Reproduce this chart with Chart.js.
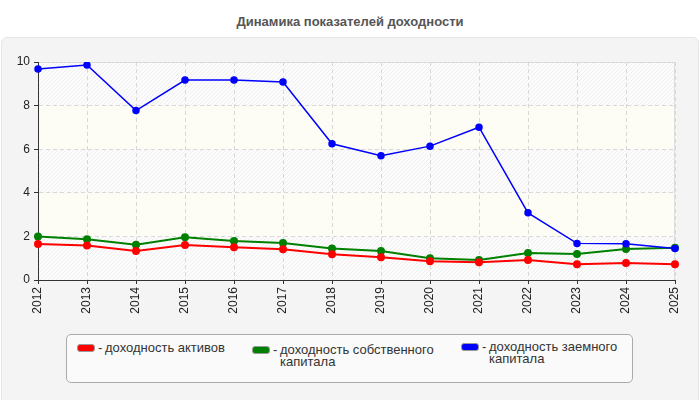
<!DOCTYPE html>
<html>
<head>
<meta charset="utf-8">
<script src="https://cdn.jsdelivr.net/npm/chart.js@4.4.1/dist/chart.umd.min.js"></script>
<style>
  body { margin: 0; background: #fff; font-family: "Liberation Sans", Arial, sans-serif; }
  #wrap { position: relative; width: 700px; height: 400px; overflow: hidden; }
  #title { position: absolute; left: 0; top: 14px; width: 700px; text-align: center;
           font-weight: bold; font-size: 13px; color: #555; }
  #panel { position: absolute; left: 1px; top: 37px; width: 696px; height: 370px;
           background: #f4f4f4; border: 1px solid #e6e6e6; border-radius: 6px; }
  #canvas-box { position: absolute; left: 0; top: 0; width: 700px; height: 330px; }
  #legend { position: absolute; left: 66px; top: 334px; width: 565px; height: 47px;
            background: #fafafa; border: 1px solid #aaa; border-radius: 5px; }
  .swatch { position: absolute; width: 16px; height: 6px;
            border: 1px solid #999; border-radius: 3px; }
  .dash, .label { position: absolute; font-size: 13px; color: #333; line-height: 12px; white-space: nowrap; }
</style>
</head>
<body>
<div id="wrap">
  <div id="title">Динамика показателей доходности</div>
  <div id="panel"></div>
  <div id="canvas-box"><canvas id="canvas" width="700" height="330"></canvas></div>
  <div id="legend"></div>
</div>
<script>
const years = ["2012", "2013", "2014", "2015", "2016", "2017", "2018", "2019", "2020", "2021", "2022", "2023", "2024", "2025"];
const assetsReturn = [1.65, 1.58, 1.33, 1.61, 1.50, 1.41, 1.18, 1.04, 0.86, 0.81, 0.92, 0.72, 0.78, 0.72];
const equityReturn = [2.00, 1.87, 1.62, 1.96, 1.79, 1.70, 1.45, 1.33, 1.00, 0.92, 1.24, 1.19, 1.42, 1.48];
const debtReturn = [9.68, 9.86, 7.77, 9.17, 9.17, 9.08, 6.25, 5.70, 6.14, 7.01, 3.08, 1.68, 1.66, 1.45];
const seriesNames = ["доходность активов", "доходность собственного\nкапитала", "доходность заемного\nкапитала"];
const seriesColors = ["#ff0000", "#008000", "#0000ff"];
const yTicks = [0, 2, 4, 6, 8, 10];

// legend drawn as html so the labels can wrap like in the picture
const legendBox = document.getElementById("legend");
const legendLeft = [10, 185, 394];
const legendTop = [9, 11, 8];
seriesNames.forEach(function (name, i) {
    const sw = document.createElement("div");
    sw.className = "swatch";
    sw.style.left = legendLeft[i] + "px";
    sw.style.top = legendTop[i] + "px";
    sw.style.background = seriesColors[i];
    legendBox.appendChild(sw);

    const dash = document.createElement("div");
    dash.className = "dash";
    dash.textContent = "-";
    dash.style.left = (legendLeft[i] + 21) + "px";
    dash.style.top = (legendTop[i] - 2) + "px";
    legendBox.appendChild(dash);

    const lab = document.createElement("div");
    lab.className = "label";
    lab.innerHTML = name.replace("\n", "<br>");
    lab.style.left = (legendLeft[i] + 28) + "px";
    lab.style.top = (legendTop[i] - 2) + "px";
    legendBox.appendChild(lab);
});

function makeHatch() {
    const c = document.createElement("canvas");
    c.width = 4; c.height = 4;
    const g = c.getContext("2d");
    g.fillStyle = "#fcfcfc";
    g.fillRect(0, 0, 4, 4);
    g.strokeStyle = "#efefef";
    g.lineWidth = 1;
    g.beginPath();
    g.moveTo(0, 4); g.lineTo(4, 0);
    g.moveTo(-1, 1); g.lineTo(1, -1);
    g.moveTo(3, 5); g.lineTo(5, 3);
    g.stroke();
    return g.createPattern(c, "repeat");
}

// striped bands behind the plot, every other band hatched, thin frame round it
const bandPlugin = {
    id: "bands",
    beforeDraw(chart) {
        const ctx = chart.ctx;
        const area = chart.chartArea;
        const y = chart.scales.y;
        const hatch = makeHatch();
        ctx.save();
        for (let i = 0; i < yTicks.length - 1; i++) {
            const top = y.getPixelForValue(yTicks[i + 1]);
            const bottom = y.getPixelForValue(yTicks[i]);
            ctx.fillStyle = i % 2 === 0 ? hatch : "#fdfdf6";
            ctx.fillRect(area.left, top, area.right - area.left, bottom - top);
        }
        ctx.strokeStyle = "#dddddd";
        ctx.lineWidth = 1;
        ctx.strokeRect(area.left + 0.5, area.top + 0.5, area.right - area.left - 1, area.bottom - area.top);
        ctx.restore();
    }
};

// green goes underneath, red and blue on top of it
const drawOrder = [1, 2, 0];
const datasets = [assetsReturn, equityReturn, debtReturn].map(function (data, i) {
    return {
        label: seriesNames[i],
        data: data,
        order: drawOrder[i],
        borderColor: seriesColors[i],
        backgroundColor: seriesColors[i],
        borderWidth: i === 2 ? 1.5 : 2,
        pointRadius: 3,
        pointHoverRadius: 3,
        tension: 0,
        fill: false
    };
});

new Chart(document.getElementById("canvas").getContext("2d"), {
    type: "line",
    data: { labels: years, datasets: datasets },
    options: {
        responsive: false,
        animation: false,
        layout: { padding: { left: 0, right: 25, top: 62, bottom: 0 } },
        plugins: { legend: { display: false }, tooltip: { enabled: false } },
        scales: {
            x: {
                offset: false,
                afterFit: function (s) { s.height = 50; },
                grid: { color: "#d8d8d8", tickColor: "#333", tickLength: 4, tickBorderDash: [] },
                border: { color: "#333", dash: [4, 3] },
                ticks: { minRotation: 90, maxRotation: 90, color: "#222", padding: 3,
                         font: { family: "Liberation Sans", size: 12 } }
            },
            y: {
                min: 0, max: 10,
                afterFit: function (s) { s.width = 38; },
                afterBuildTicks: function (s) { s.ticks = yTicks.map(v => ({ value: v })); },
                grid: { color: "#d8d8d8", tickColor: "#333", tickLength: 4, tickBorderDash: [] },
                border: { color: "#333", dash: [4, 3] },
                ticks: { color: "#222", padding: 4, font: { family: "Liberation Sans", size: 12 } }
            }
        }
    },
    plugins: [bandPlugin]
});
</script>
</body>
</html>
